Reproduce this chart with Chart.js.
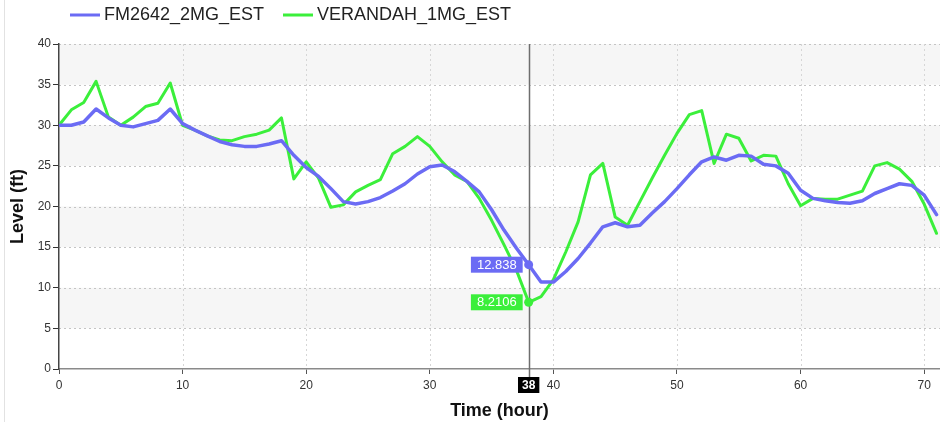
<!DOCTYPE html>
<html>
<head>
<meta charset="utf-8">
<script src="https://cdn.jsdelivr.net/npm/chart.js@4.4.1/dist/chart.umd.min.js"></script>
<style>
  html, body { margin: 0; padding: 0; background: #fff; }
  #wrap { width: 940px; height: 422px; position: relative; }
</style>
</head>
<body>
<div id="wrap"><canvas id="levels" width="940" height="422"></canvas></div>
<script>
// Hourly tank levels (ft)
const hours = [0,1,2,3,4,5,6,7,8,9,10,11,12,13,14,15,16,17,18,19,20,21,22,23,24,25,26,27,28,29,
  30,31,32,33,34,35,36,37,38,39,40,41,42,43,44,45,46,47,48,49,50,51,52,53,54,55,56,57,58,59,
  60,61,62,63,64,65,66,67,68,69,70,71];

const fm2642 = [30.0,30.0,30.4,32.0,30.9,30.0,29.8,30.2,30.6,32.0,
  30.2,29.4,28.7,28.0,27.6,27.4,27.4,27.7,28.1,26.3,
  24.8,23.7,22.2,20.6,20.3,20.6,21.1,21.9,22.8,24.0,
  24.9,25.1,24.3,23.1,21.8,19.6,17.1,14.9,12.838,10.7,
  10.7,12.0,13.6,15.5,17.5,18.0,17.5,17.7,19.2,20.6,
  22.2,23.9,25.5,26.1,25.7,26.3,26.2,25.2,25.0,24.1,
  22.0,21.0,20.7,20.5,20.4,20.7,21.6,22.2,22.8,22.6,
  21.4,19.0];

const verandah = [30.0,31.9,32.8,35.4,31.0,30.0,31.0,32.3,32.7,35.2,
  30.0,29.4,28.7,28.2,28.1,28.6,28.9,29.4,30.9,23.4,
  25.5,23.5,19.9,20.2,21.8,22.6,23.3,26.5,27.4,28.6,
  27.4,25.5,23.9,23.1,21.0,18.3,15.3,12.2,8.2106,8.9,
  11.0,14.4,18.1,23.9,25.3,18.7,17.7,20.6,23.5,26.3,
  29.0,31.3,31.8,25.3,28.9,28.4,25.6,26.3,26.2,22.8,
  20.1,21.0,20.9,20.9,21.4,21.9,25.0,25.4,24.6,23.1,
  20.3,16.7];

const seriesNames = ['FM2642_2MG_EST', 'VERANDAH_1MG_EST'];
const xTicks = [0, 10, 20, 30, 40, 50, 60, 70];
const yTicks = [0, 5, 10, 15, 20, 25, 30, 35, 40];
const cursorHour = 38;

const FONT = '"Liberation Sans", Arial, sans-serif';
const BLUE = '#6b6bf4';
const GREEN = '#3bef3b';
Chart.defaults.font.family = FONT;

const cursorIndex = hours.indexOf(cursorHour);
const toPoints = vals => hours.map((h, i) => ({ x: h, y: vals[i] }));
const markerRadius = ctx => (ctx.dataIndex === cursorIndex ? 4.5 : 0);

// Plot background: alternating bands and dotted grid
const backdrop = {
  id: 'backdrop',
  beforeDraw(chart) {
    const { ctx, chartArea: a, scales: { x, y } } = chart;
    ctx.save();
    ctx.fillStyle = '#ffffff';
    ctx.fillRect(0, 0, chart.width, chart.height);
    // light frame line at the left edge
    ctx.strokeStyle = '#e2e2e2';
    ctx.lineWidth = 1;
    ctx.beginPath(); ctx.moveTo(4.5, 0); ctx.lineTo(4.5, chart.height); ctx.stroke();
    // bands
    ctx.fillStyle = '#f6f6f6';
    for (let i = 0; i < yTicks.length - 1; i++) {
      if (i % 2 === 1) {
        const y1 = y.getPixelForValue(yTicks[i + 1]);
        const y0 = y.getPixelForValue(yTicks[i]);
        ctx.fillRect(a.left, y1, a.right - a.left, y0 - y1);
      }
    }
    // dotted horizontal grid
    ctx.setLineDash([2, 3]);
    ctx.strokeStyle = '#c4c4c4';
    ctx.lineWidth = 1;
    yTicks.forEach(v => {
      if (v === 0) return;
      const py = Math.round(y.getPixelForValue(v)) + 0.5;
      ctx.beginPath(); ctx.moveTo(a.left, py); ctx.lineTo(a.right, py); ctx.stroke();
    });
    // dotted vertical grid
    ctx.strokeStyle = '#d6d6d6';
    xTicks.forEach(v => {
      if (v === 0) return;
      const px = Math.round(x.getPixelForValue(v)) + 0.5;
      ctx.beginPath(); ctx.moveTo(px, a.top); ctx.lineTo(px, a.bottom); ctx.stroke();
    });
    ctx.restore();
  }
};

// Vertical cursor at the selected hour
const cursor = {
  id: 'cursor',
  beforeDatasetsDraw(chart) {
    const { ctx, chartArea: a, scales: { x } } = chart;
    const px = Math.round(x.getPixelForValue(cursorHour)) + 0.5;
    ctx.save();
    ctx.strokeStyle = '#6e6e6e';
    ctx.lineWidth = 1.5;
    ctx.beginPath(); ctx.moveTo(px, a.top); ctx.lineTo(px, a.bottom + 8); ctx.stroke();
    ctx.restore();
  },
  afterDatasetsDraw(chart) {
    const { ctx, chartArea: a, scales: { x } } = chart;
    ctx.save();
    // value flags for each series at the cursor
    ctx.font = '13px ' + FONT;
    ctx.textBaseline = 'middle';
    chart.data.datasets.forEach((ds, di) => {
      const el = chart.getDatasetMeta(di).data[cursorIndex];
      const txt = String(ds.data[cursorIndex].y);
      const w = ctx.measureText(txt).width + 12;
      const h = 16;
      const right = el.x - 6;
      ctx.fillStyle = ds.borderColor;
      ctx.fillRect(right - w, el.y - h / 2, w, h);
      ctx.fillStyle = '#ffffff';
      ctx.textAlign = 'left';
      ctx.fillText(txt, right - w + 6, el.y + 0.5);
    });
    // hour badge on the time axis
    const px = x.getPixelForValue(cursorHour);
    const label = String(cursorHour);
    ctx.font = 'bold 12px ' + FONT;
    const bw = ctx.measureText(label).width + 8;
    ctx.fillStyle = '#000000';
    ctx.fillRect(px - bw / 2, a.bottom + 8, bw, 16);
    ctx.fillStyle = '#ffffff';
    ctx.textAlign = 'center';
    ctx.fillText(label, px, a.bottom + 16.5);
    ctx.restore();
  }
};

// Legend row across the top
const topLegend = {
  id: 'topLegend',
  afterDraw(chart) {
    const { ctx } = chart;
    const slots = [70, 283];
    ctx.save();
    ctx.font = '18px ' + FONT;
    ctx.textBaseline = 'middle';
    ctx.textAlign = 'left';
    chart.data.datasets.forEach((ds, i) => {
      const x0 = slots[i];
      ctx.strokeStyle = ds.borderColor;
      ctx.lineWidth = 3;
      ctx.beginPath(); ctx.moveTo(x0, 15); ctx.lineTo(x0 + 30, 15); ctx.stroke();
      ctx.fillStyle = '#222222';
      ctx.fillText(ds.label, x0 + 34, 15);
    });
    ctx.restore();
  }
};

new Chart(document.getElementById('levels'), {
  type: 'line',
  data: {
    datasets: [
      {
        label: seriesNames[0],
        data: toPoints(fm2642),
        borderColor: BLUE,
        backgroundColor: BLUE,
        borderWidth: 3.5,
        pointRadius: markerRadius,
        pointBackgroundColor: BLUE,
        pointBorderWidth: 0,
        tension: 0,
        borderJoinStyle: 'round',
        borderCapStyle: 'round'
      },
      {
        label: seriesNames[1],
        data: toPoints(verandah),
        borderColor: GREEN,
        backgroundColor: GREEN,
        borderWidth: 3,
        pointRadius: markerRadius,
        pointBackgroundColor: GREEN,
        pointBorderWidth: 0,
        tension: 0,
        borderJoinStyle: 'round',
        borderCapStyle: 'round'
      }
    ]
  },
  options: {
    responsive: false,
    animation: false,
    events: [],
    layout: { padding: { top: 44, right: 0, left: 0, bottom: 0 } },
    plugins: {
      legend: { display: false },
      tooltip: { enabled: false }
    },
    scales: {
      x: {
        type: 'linear',
        min: 0,
        max: 71.28,
        afterBuildTicks: s => { s.ticks = xTicks.map(v => ({ value: v })); },
        afterFit: s => { s.height = 53; },
        grid: { drawOnChartArea: false, drawTicks: true, tickLength: 5, tickColor: '#555', color: '#555' },
        border: { display: true, color: '#8a8a8a', width: 1.5 },
        ticks: { color: '#333', font: { size: 12 }, padding: 4, maxRotation: 0 },
        title: { display: true, text: 'Time (hour)', color: '#111', font: { size: 18, weight: 'bold' }, padding: { top: 1.2, bottom: 0 } }
      },
      y: {
        type: 'linear',
        min: 0,
        max: 40,
        afterBuildTicks: s => { s.ticks = yTicks.map(v => ({ value: v })); },
        afterFit: s => { s.width = 59; },
        grid: { drawOnChartArea: false, drawTicks: true, tickLength: 6, tickColor: '#333', color: '#333' },
        border: { display: true, color: '#444', width: 1.5 },
        ticks: { color: '#333', font: { size: 12 }, padding: 2 },
        title: { display: true, text: 'Level (ft)', color: '#111', font: { size: 18, weight: 'bold' }, padding: { top: 7.2, bottom: 0 } }
      }
    }
  },
  plugins: [backdrop, cursor, topLegend]
});
</script>
</body>
</html>
